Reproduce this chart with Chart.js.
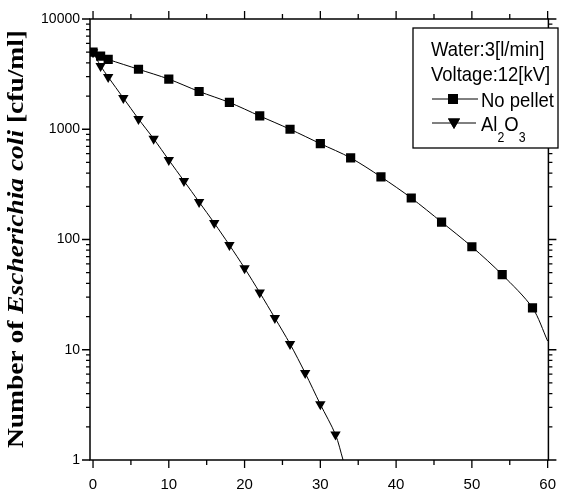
<!DOCTYPE html>
<html lang="en">
<head>
<meta charset="UTF-8">
<title>E. coli inactivation</title>
<script src="https://cdn.jsdelivr.net/npm/chart.js@4.4.9/dist/chart.umd.js"></script>
<style>
    html, body { margin: 0; padding: 0; background: #fff; }
</style>
</head>
<body>
<canvas id="chart" width="572" height="494"></canvas>
<script>
// treatment time [min] and surviving counts [cfu/ml]
const timeNoPellet  = [0, 1, 2, 6, 10, 14, 18, 22, 26, 30, 34, 38, 42, 46, 50, 54, 58];
const countNoPellet = [5000, 4600, 4300, 3500, 2850, 2200, 1750, 1320, 1000, 740, 550, 370, 238, 144, 86, 48, 24];
const timeAl2O3  = [0, 1, 2, 4, 6, 8, 10, 12, 14, 16, 18, 20, 22, 24, 26, 28, 30, 32];
const countAl2O3 = [5000, 3750, 2980, 1920, 1240, 820, 526, 340, 219, 141, 89, 55, 33, 19.4, 11.3, 6.15, 3.2, 1.7];
// where the fitted curves leave the frame
const fitEndNoPellet = [60, 12];
const fitEndAl2O3 = [33, 1];

const xTicks = [0, 10, 20, 30, 40, 50, 60];
const xMinor = [5, 15, 25, 35, 45, 55];
const yTicks = [1, 10, 100, 1000, 10000];
const legendNotes = ['Water:3[l/min]', 'Voltage:12[kV]'];
const seriesNames = ['No pellet', 'Al2O3'];

function toPoints(xs, ys, end) {
    const pts = xs.map((x, i) => ({ x: x, y: ys[i] }));
    pts.push({ x: end[0], y: end[1] });
    return pts;
}

// frame with outward major/minor ticks on all four sides
const framePlugin = {
    id: 'frame',
    afterDraw(chart) {
        const { ctx, chartArea: a, scales } = chart;
        ctx.save();
        ctx.strokeStyle = '#000';
        ctx.lineWidth = 1.5;
        ctx.strokeRect(a.left, a.top, a.right - a.left, a.bottom - a.top);
        ctx.lineWidth = 1.3;
        ctx.beginPath();
        const xt = (v, len) => {
            const px = scales.x.getPixelForValue(v);
            ctx.moveTo(px, a.bottom); ctx.lineTo(px, a.bottom + len);
            ctx.moveTo(px, a.top); ctx.lineTo(px, a.top - len);
        };
        xTicks.forEach(v => xt(v, 8));
        xMinor.forEach(v => xt(v, 5));
        const yt = (v, len) => {
            const py = scales.y.getPixelForValue(v);
            ctx.moveTo(a.left, py); ctx.lineTo(a.left - len, py);
            ctx.moveTo(a.right, py); ctx.lineTo(a.right + len, py);
        };
        yTicks.forEach(v => yt(v, 8));
        for (let d = 1; d < 10000; d *= 10) {
            for (let m = 2; m < 10; m++) yt(d * m, 4);
        }
        ctx.stroke();
        ctx.restore();
    }
};

// rotated y title with the species name in italics
const yTitlePlugin = {
    id: 'yTitle',
    afterDraw(chart) {
        const ctx = chart.ctx;
        const parts = [
            ['Number of ', 'bold 23px "Liberation Serif", "Times New Roman", serif'],
            ['Escherichia coli', 'italic bold 23px "Liberation Serif", "Times New Roman", serif'],
            [' [cfu/ml]', 'bold 23px "Liberation Serif", "Times New Roman", serif']
        ];
        let w = 0;
        parts.forEach(p => { ctx.font = p[1]; w += ctx.measureText(p[0]).width; });
        const y0 = 448, y1 = 30;
        ctx.save();
        ctx.fillStyle = '#000';
        ctx.textBaseline = 'alphabetic';
        ctx.translate(23, y0);
        ctx.rotate(-Math.PI / 2);
        ctx.scale((y0 - y1) / w, 1);
        let x = 0;
        parts.forEach(p => {
            ctx.font = p[1];
            ctx.fillText(p[0], x, 0);
            x += ctx.measureText(p[0]).width;
        });
        ctx.restore();
    }
};

// boxed legend with the run conditions
const legendPlugin = {
    id: 'boxLegend',
    afterDraw(chart) {
        const ctx = chart.ctx;
        const font = '21px "Liberation Sans", Arial, sans-serif';
        const sub = '14px "Liberation Sans", Arial, sans-serif';
        const sx = 0.88;
        const text = (s, x, y, f) => {
            ctx.save();
            ctx.font = f;
            ctx.translate(x, y);
            ctx.scale(sx, 1);
            ctx.fillText(s, 0, 0);
            const w = ctx.measureText(s).width * sx;
            ctx.restore();
            return w;
        };
        ctx.save();
        ctx.strokeStyle = '#000';
        ctx.lineWidth = 1.3;
        ctx.fillStyle = '#fff';
        ctx.fillRect(413, 28, 145, 120);
        ctx.strokeRect(413, 28, 145, 120);
        ctx.fillStyle = '#000';
        ctx.textBaseline = 'alphabetic';
        text(legendNotes[0], 431, 56, font);
        text(legendNotes[1], 431, 81, font);

        ctx.lineWidth = 1;
        ctx.beginPath();
        ctx.moveTo(432, 99); ctx.lineTo(478, 99);
        ctx.moveTo(432, 123); ctx.lineTo(476, 123);
        ctx.stroke();
        Chart.helpers.drawPoint(ctx, { pointStyle: 'rect', radius: 7, rotation: 0, borderWidth: 0 }, 453, 99);
        ctx.fill();
        Chart.helpers.drawPoint(ctx, { pointStyle: 'triangle', radius: 7, rotation: 180, borderWidth: 0 }, 454, 122);
        ctx.fill();

        text(seriesNames[0], 481, 107, font);
        let x = 481;
        x += text('Al', x, 131, font);
        x += text('2', x, 142, sub);
        x += text('O', x, 131, font);
        text('3', x, 142, sub);
        ctx.restore();
    }
};

new Chart(document.getElementById('chart'), {
    type: 'scatter',
    data: {
        datasets: [
            {
                label: seriesNames[0],
                data: toPoints(timeNoPellet, countNoPellet, fitEndNoPellet),
                showLine: true,
                borderColor: '#000',
                borderWidth: 1,
                backgroundColor: '#000',
                pointStyle: 'rect',
                pointRadius: ctx => ctx.dataIndex < countNoPellet.length ? 6.5 : 0,
                pointBorderWidth: 0,
                tension: 0.3
            },
            {
                label: seriesNames[1],
                data: toPoints(timeAl2O3, countAl2O3, fitEndAl2O3),
                showLine: true,
                borderColor: '#000',
                borderWidth: 1,
                backgroundColor: '#000',
                pointStyle: 'triangle',
                pointRotation: 180,
                pointRadius: ctx => ctx.dataIndex < countAl2O3.length ? 6 : 0,
                pointBorderWidth: 0,
                tension: 0.3
            }
        ]
    },
    options: {
        responsive: false,
        devicePixelRatio: 1,
        animation: false,
        layout: { padding: { top: 19, right: 7, left: 0, bottom: 0 } },
        plugins: {
            legend: { display: false },
            tooltip: { enabled: false }
        },
        scales: {
            x: {
                type: 'linear',
                min: -0.4,
                max: 60.1,
                afterBuildTicks: s => { s.ticks = xTicks.map(v => ({ value: v })); },
                afterFit: s => { s.height = 34; },
                grid: { display: false, drawTicks: false },
                border: { display: false },
                ticks: {
                    color: '#000',
                    font: { family: '"Liberation Sans", Arial, sans-serif', size: 15 },
                    padding: 16,
                    maxRotation: 0
                }
            },
            y: {
                type: 'logarithmic',
                min: 1,
                max: 10000,
                afterBuildTicks: s => { s.ticks = yTicks.map(v => ({ value: v })); },
                afterFit: s => { s.width = 90; },
                grid: { display: false, drawTicks: false },
                border: { display: false },
                ticks: {
                    color: '#000',
                    font: { family: '"Liberation Sans", Arial, sans-serif', size: 14 },
                    padding: 10,
                    callback: v => String(v)
                }
            }
        }
    },
    plugins: [framePlugin, yTitlePlugin, legendPlugin]
});
</script>
</body>
</html>
